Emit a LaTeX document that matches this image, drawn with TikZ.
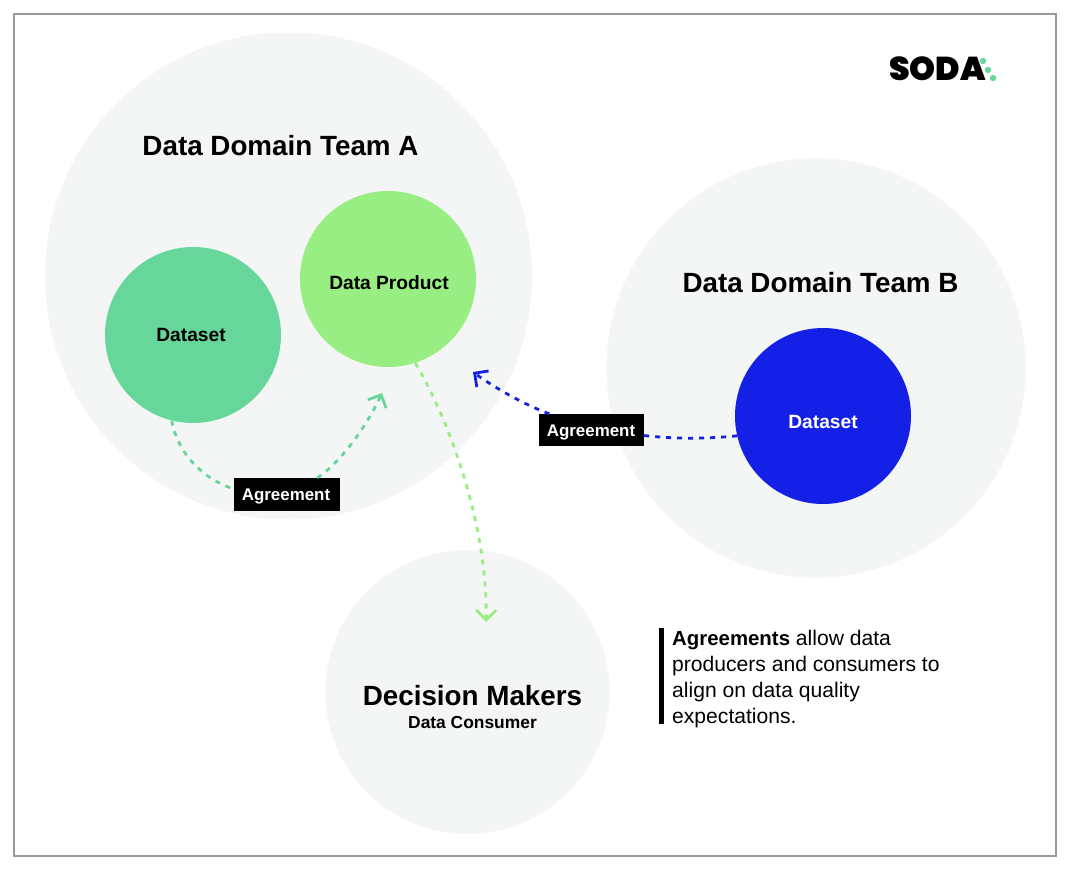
\documentclass[tikz,border=0pt]{standalone}
\usepackage{fontspec}
\setmainfont{Liberation Sans}
\newfontfamily\logofont{Poppins Black}
\usetikzlibrary{arrows.meta, positioning}
\definecolor{sodapale}{HTML}{F4F6F5}
\definecolor{sodagreen}{HTML}{66D69B}
\definecolor{sodalime}{HTML}{98EE83}
\definecolor{sodablue}{HTML}{1420E6}
\definecolor{sodaframe}{HTML}{9A9A9A}
\begin{document}
\begin{tikzpicture}[
    x=1pt, y=-1pt,
    team/.style={circle, fill=sodapale, inner sep=0pt},
    ball/.style={circle, inner sep=0pt, minimum size=176pt},
    balltext/.style={inner sep=0pt, font=\fontsize{19.2}{22}\selectfont\bfseries},
    title/.style={font=\fontsize{27.8}{32}\selectfont\bfseries, inner sep=0pt},
    tag/.style={fill=black, text=white, inner sep=0pt, minimum width=106pt, minimum height=33pt},
    tagtext/.style={text=white, inner sep=0pt, font=\fontsize{16.9}{20}\selectfont\bfseries},
    arr/.style={-{Straight Barb[length=10pt, width=20pt, line width=2.8pt]}, line width=2.8pt, dash pattern=on 5pt off 6pt},
    plain/.style={line width=2.8pt, dash pattern=on 5pt off 6pt}
  ]
    \useasboundingbox (0,0) rectangle (1068,870);
    \fill[white] (0,0) rectangle (1068,870);
    \draw[sodaframe, line width=2pt] (14,14) rectangle (1056,856);
    % big circles
    \node[team, minimum size=487pt] (teama) at (288.5,276) {};
    \node[team, minimum size=419pt] (teamb) at (816,368) {};
    \node[team, minimum size=284pt] (makers) at (467.5,692) {};
    \node[title] (teamatitle) at (280.5,146) {Data Domain Team A};
    \node[title] (teambtitle) at (820.5,283) {Data Domain Team B};
    \node[title] (makerstitle) at (472.5,696) {Decision Makers};
    \node[inner sep=0pt, font=\fontsize{17.4}{20}\selectfont\bfseries] (makerssub) at (472.5,723) {Data Consumer};
    % small circles
    \node[ball, fill=sodagreen] (dataseta) at (193,335) {};
    \node[ball, fill=sodalime] (product) at (388,279) {};
    \node[ball, fill=sodablue] (datasetb) at (823,416) {};
    \node[balltext] (datasetatext) at (191,335) {Dataset};
    \node[balltext] (producttext) at (389,283) {Data Product};
    \node[balltext, text=white] (datasetbtext) at (823,422) {Dataset};
    \coordinate (tipa) at (382,393);
    \coordinate (tipb) at (473,372);
    \coordinate (tipc) at (486,622);
    \node[tag] (agreea) at (287,494.5) {};
    \node[tag, minimum width=105pt, minimum height=32pt] (agreeb) at (591.5,430) {};
    % connectors
    \draw[plain, sodagreen] (dataseta.256) .. controls (178,455) and (205,480) .. (agreea.174);
    \draw[arr, sodagreen] (agreea.29) .. controls (338,465) and (366,428) .. (tipa);
    \draw[plain, sodablue] (datasetb.193) .. controls (705,439) and (675,439) .. (agreeb.-6);
    \draw[arr, sodablue] (agreeb.159) .. controls (525,405) and (495,388) .. (tipb);
    \draw[arr, sodalime] (product.288) .. controls (452,425) and (488,530) .. (tipc);
    \node[tagtext] (agreeatext) at (286,496.5) {Agreement};
    \node[tagtext] (agreebtext) at (591,432.5) {Agreement};
    % note
    \fill[black] (659,628) rectangle (664,724);
    \node[anchor=north west, inner sep=0pt, align=left, font=\fontsize{21.1}{26}\selectfont] (note) at (672,630)
      {{\fontsize{20.4}{26}\selectfont\bfseries Agreements} allow data\\producers and consumers to\\align on data quality\\expectations.};
    % logo
    \node[inner sep=0pt, font=\logofont\fontsize{33}{36}\selectfont] (logo) at (937.5,69) {SODA};
    \fill[sodagreen] (983,61) circle (3.2pt) (988,70) circle (3.2pt) (993,78) circle (3.2pt);
  \end{tikzpicture}
\end{document}
